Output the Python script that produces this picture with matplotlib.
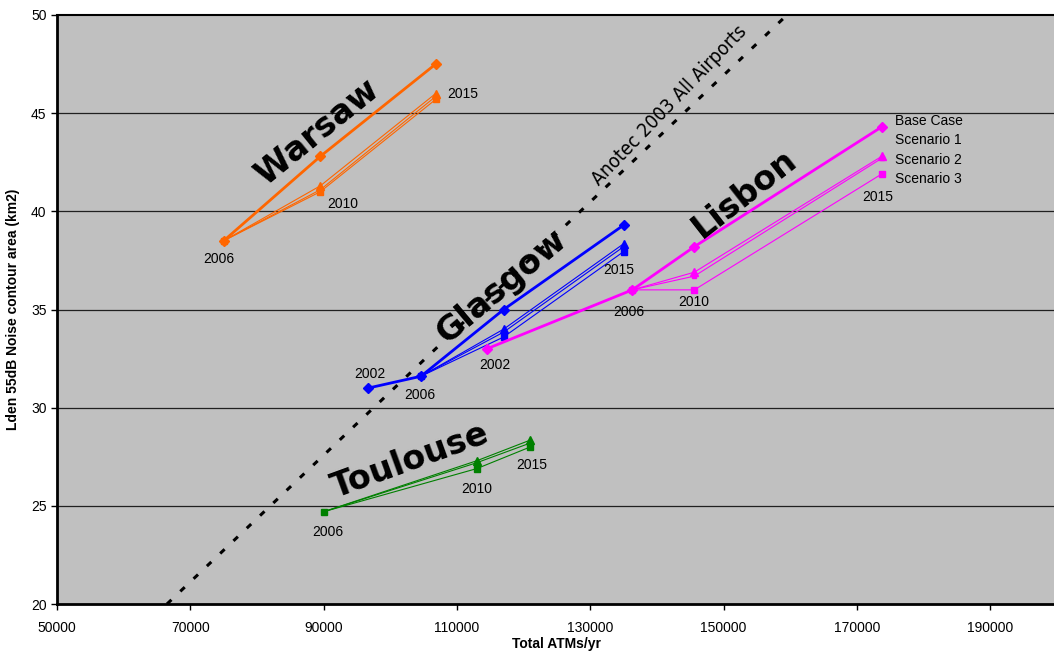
import matplotlib
matplotlib.use("Agg")
import matplotlib.pyplot as plt

plt.rcParams['font.family'] = ['Liberation Sans', 'DejaVu Sans']

# ---- data: total ATMs per year vs. Lden 55dB contour area (km2) ----
warsaw_atms = [75000, 89500, 106800]
warsaw_base = [38.5, 42.8, 47.5]
warsaw_s1 = [38.5, 41.1, 45.85]
warsaw_s2 = [38.5, 41.3, 46.0]
warsaw_s3 = [38.5, 41.0, 45.7]

glasgow_base_atms = [96700, 104600, 117000, 135000]
glasgow_base = [31.0, 31.6, 35.0, 39.3]
glasgow_scen_atms = [104600, 117000, 135000]
glasgow_s1 = [31.6, 33.85, 38.2]
glasgow_s2 = [31.6, 34.0, 38.35]
glasgow_s3 = [31.6, 33.6, 37.95]

lisbon_base_atms = [114500, 136300, 145600, 173700]
lisbon_base = [33.0, 36.0, 38.2, 44.3]
lisbon_scen_atms = [136300, 145600, 173700]
lisbon_s1 = [36.0, 36.7, 42.7]
lisbon_s2 = [36.0, 36.9, 42.8]
lisbon_s3 = [36.0, 36.0, 41.9]

toulouse_atms = [90000, 113000, 121000]
toulouse_s1 = [24.7, 27.2, 28.2]
toulouse_s2 = [24.7, 27.3, 28.35]
toulouse_s3 = [24.7, 26.9, 28.0]

anotec_atms = [66500, 159500]
anotec_area = [20.0, 50.0]

scenario_names = ["Base Case", "Scenario 1", "Scenario 2", "Scenario 3"]
x_ticks = [50000, 70000, 90000, 110000, 130000, 150000, 170000, 190000]
y_ticks = [20, 25, 30, 35, 40, 45, 50]

ORANGE = "#FF6600"
BLUE = "#0000FF"
MAGENTA = "#FF00FF"
GREEN = "#008000"

fig = plt.figure(figsize=(10.54, 6.54), dpi=100)
ax = fig.add_axes([57 / 1054, 50 / 654, 1000 / 1054, 589 / 654])
ax.set_facecolor("#C0C0C0")
ax.set_xlim(50000, 200000)
ax.set_ylim(20, 50)

for y in y_ticks[1:-1]:
    ax.axhline(y, color="#202020", lw=0.9, zorder=1)


def base(xs, ys, c):
    ax.plot(xs, ys, color=c, lw=2.0, marker="D", ms=5, mec=c, mfc=c, zorder=4)


def scen(xs, ys, c, m, ms, first=True):
    ax.plot(xs, ys, color=c, lw=0.8, marker=m, ms=ms, mec=c, mfc=c, zorder=3,
            markevery=None if first else slice(1, None))


def scenarios(xs, s1, s2, s3, c):
    scen(xs, s1, c, "s", 3, first=False)
    scen(xs, s2, c, "^", 6, first=False)
    scen(xs, s3, c, "s", 5)


scenarios(warsaw_atms, warsaw_s1, warsaw_s2, warsaw_s3, ORANGE)
base(warsaw_atms, warsaw_base, ORANGE)

scenarios(glasgow_scen_atms, glasgow_s1, glasgow_s2, glasgow_s3, BLUE)
base(glasgow_base_atms, glasgow_base, BLUE)

scenarios(lisbon_scen_atms, lisbon_s1, lisbon_s2, lisbon_s3, MAGENTA)
base(lisbon_base_atms, lisbon_base, MAGENTA)

scenarios(toulouse_atms, toulouse_s1, toulouse_s2, toulouse_s3, GREEN)

# Anotec 2003 reference trend
ax.plot(anotec_atms, anotec_area, color="black", lw=2.2,
        dashes=(2, 4), dash_capstyle="butt", zorder=2)
ax.text(141900, 45.4, "Anotec 2003 All Airports", rotation=46,
        family="DejaVu Sans", fontstretch="condensed",
        fontsize=14, ha="center", va="center", zorder=5)

# city names
city_kw = dict(family="DejaVu Sans", fontweight="bold", fontsize=24,
               ha="center", va="center", zorder=5)
ax.text(89000, 44.05, "Warsaw", rotation=39, **city_kw)
ax.text(116750, 36.2, "Glasgow", rotation=40, **city_kw)
ax.text(153200, 40.9, "Lisbon", rotation=38, **city_kw)
ax.text(103000, 27.3, "Toulouse", rotation=20, **city_kw)


# year labels, offset (in pixels) from the point they describe
def year(label, x, y, dx, dy):
    ax.annotate(label, (x, y), xytext=(dx * 0.72, dy * 0.72),
                textcoords="offset points", ha="center", va="center",
                fontsize=10, zorder=6)


year("2006", warsaw_atms[0], warsaw_s3[0], -5, -18)
year("2010", warsaw_atms[1], warsaw_s3[1], 22, -12)
year("2015", warsaw_atms[2], warsaw_s2[2], 27, 0)

year("2002", glasgow_base_atms[0], glasgow_base[0], 2, 14)
year("2006", glasgow_base_atms[1], glasgow_base[1], -1, -19)
year("2015", glasgow_scen_atms[2], glasgow_s3[2], -5, -18)

year("2002", lisbon_base_atms[0], lisbon_base[0], 8, -16)
year("2006", lisbon_base_atms[1], lisbon_base[1], -4, -22)
year("2010", lisbon_scen_atms[1], lisbon_s3[1], -1, -12)
year("2015", lisbon_scen_atms[2], lisbon_s3[2], -4, -23)

year("2006", toulouse_atms[0], toulouse_s3[0], 4, -20)
year("2010", toulouse_atms[1], toulouse_s3[1], 0, -20)
year("2015", toulouse_atms[2], toulouse_s3[2], 1, -18)

# scenario key beside the Lisbon end points
for name, y in zip(scenario_names, [44.6, 43.62, 42.62, 41.63]):
    ax.text(175700, y, name, fontsize=10, ha="left", va="center", zorder=6)

# axes
ax.set_xticks(x_ticks)
ax.set_xticklabels([str(v) for v in x_ticks])
ax.set_yticks(y_ticks)
ax.tick_params(axis="both", direction="out", length=4, width=1,
               labelsize=10, color="black")
ax.tick_params(axis="x", pad=8)
for s in ax.spines.values():
    s.set_color("black")
    s.set_linewidth(1.5)
ax.spines["left"].set_linewidth(2)
ax.spines["bottom"].set_linewidth(2)

ax.set_xlabel("Total ATMs/yr", fontweight="bold", fontsize=10, labelpad=2)
ax.set_ylabel("Lden 55dB Noise contour area (km2)", fontweight="bold",
              fontsize=10, labelpad=8)

fig.savefig("out.png", dpi=100)
